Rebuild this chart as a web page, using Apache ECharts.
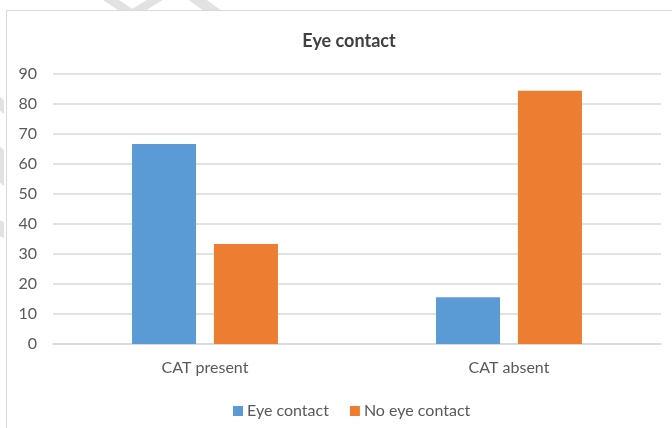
<!DOCTYPE html>
<html>
<head>
<meta charset="utf-8">
<script src="https://cdn.jsdelivr.net/npm/echarts@6/dist/echarts.min.js"></script>
<style>
  html, body { margin: 0; padding: 0; background: #ffffff; }
  #chart { width: 672px; height: 428px; }
</style>
</head>
<body>
<div id="chart"></div>
<script>
// Share of interactions with and without eye contact, by CAT condition
const categories = ['CAT present', 'CAT absent'];
const eyeContact = [66.7, 15.6];
const noEyeContact = [33.3, 84.4];
const seriesNames = ['Eye contact', 'No eye contact'];
const yTicks = { min: 0, max: 90, step: 10 };

const FONT = 'Lato, "Noto Sans", sans-serif';
const LABEL = '#595959';
const RULE = '#d9d9d9';
const MARK = '#e2e2e2';

const chart = echarts.init(document.getElementById('chart'), null, { renderer: 'canvas' });

// faint diagonal strokes in the page margin, partly covered by the chart frame
const strokes = [
  [[100, -2], [116, -2], [140, 14], [124, 14]],
  [[150, -2], [166, -2], [140, 14], [124, 14]],
  [[186, -2], [204, -2], [226, 14], [208, 14]],
  [[-6, 92], [4, 100], [4, 114], [-6, 106]],
  [[-6, 142], [4, 150], [4, 186], [-6, 178]],
  [[-6, 218], [4, 222], [4, 238], [-6, 234]]
];

chart.setOption({
  animation: false,
  backgroundColor: '#ffffff',
  textStyle: { fontFamily: FONT },
  graphic: [
    ...strokes.map(pts => ({
      type: 'polygon', z: -20, silent: true,
      shape: { points: pts },
      style: { fill: MARK }
    })),
    {
      type: 'rect', z: -10, silent: true,
      shape: { x: 6.5, y: 10.5, width: 720, height: 460 },
      style: { fill: '#ffffff', stroke: RULE, lineWidth: 1 }
    }
  ],
  title: {
    text: 'Eye contact',
    left: 344,
    top: 27,
    textAlign: 'center',
    textStyle: { fontFamily: FONT, fontSize: 18, fontWeight: 'bold', color: '#404040' }
  },
  legend: {
    data: seriesNames,
    left: 228,
    top: 398,
    itemWidth: 10,
    itemHeight: 10,
    itemGap: 21,
    icon: 'rect',
    textStyle: { fontFamily: FONT, fontSize: 16, color: LABEL, padding: [0, 0, 0, -1] }
  },
  grid: { left: 53, right: 11, top: 74, bottom: 84, containLabel: false },
  xAxis: {
    type: 'category',
    data: categories,
    axisTick: { show: false },
    axisLine: { lineStyle: { color: RULE, width: 1.5 } },
    axisLabel: { fontFamily: FONT, fontSize: 16, color: LABEL, margin: 16 }
  },
  yAxis: {
    type: 'value',
    min: yTicks.min,
    max: yTicks.max,
    interval: yTicks.step,
    axisLine: { show: false },
    axisTick: { show: false },
    splitLine: { lineStyle: { color: RULE, width: 1.5 } },
    axisLabel: { fontFamily: FONT, fontSize: 16, color: LABEL, margin: 16 }
  },
  series: [
    {
      name: seriesNames[0],
      type: 'bar',
      data: eyeContact,
      barWidth: 64,
      barGap: '28%',
      itemStyle: { color: '#5b9bd5' }
    },
    {
      name: seriesNames[1],
      type: 'bar',
      data: noEyeContact,
      barWidth: 64,
      itemStyle: { color: '#ed7d31' }
    }
  ]
});
</script>
</body>
</html>
